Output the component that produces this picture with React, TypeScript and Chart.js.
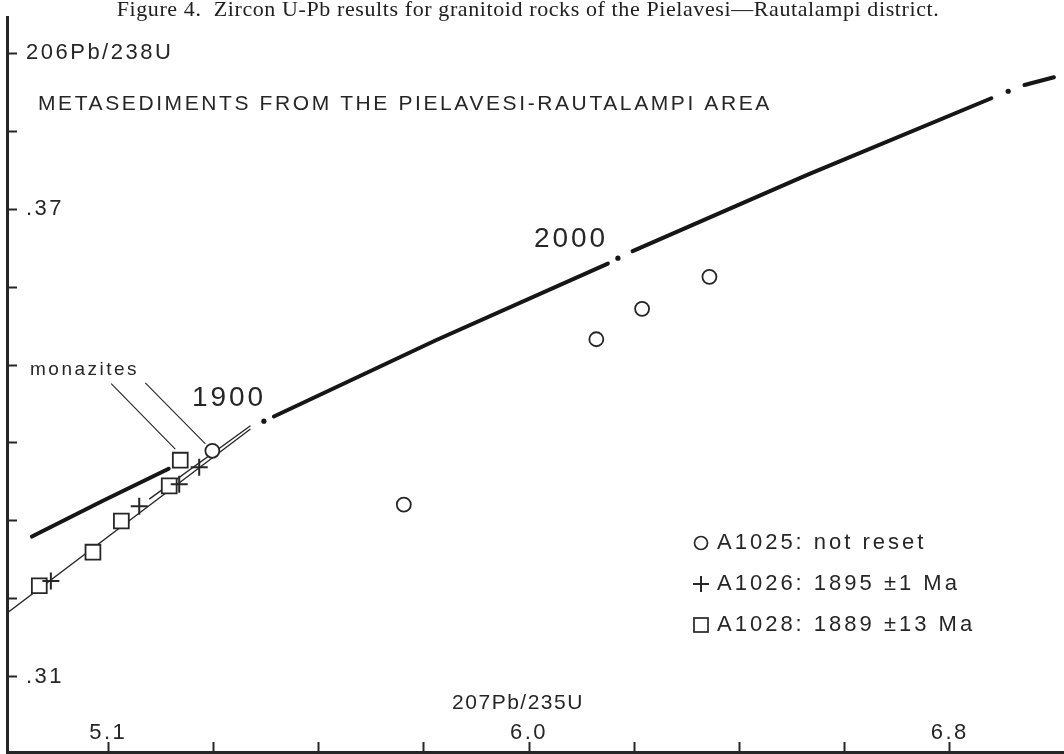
import React, { useEffect, useRef } from "react";
import { Chart, registerables } from "chart.js";

Chart.register(...registerables);

const SANS = '"Liberation Sans", Arial, Helvetica, sans-serif';
const SERIF = '"Liberation Serif", "Times New Roman", serif';
const INK = "#262626";
const LINE = "#161616";

// ---- data (207Pb/235U , 206Pb/238U) ----
const a1025X = [5.398, 5.762, 6.128, 6.215, 6.343];
const a1025Y = [0.339, 0.3321, 0.3533, 0.3572, 0.3613];
const a1026X = [5.091, 5.259, 5.335, 5.373];
const a1026Y = [0.3223, 0.3319, 0.3347, 0.3369];
const a1028X = [5.069, 5.171, 5.225, 5.316, 5.337];
const a1028Y = [0.3217, 0.326, 0.33, 0.3345, 0.3378];

// concordia curve, drawn in pieces (null = gap)
const concordiaX = [5.055, 5.19, 5.315, null, 5.515, 5.824, 6.15, null, 6.197, 6.53, 6.879, null, 6.942, 6.998];
const concordiaY = [0.328, 0.3326, 0.3367, null, 0.3434, 0.3532, 0.363, null, 0.3646, 0.3744, 0.3842, null, 0.3859, 0.3869];
const ageLabels = ["1900", "2000", "2100"];
const ageMarkX = [5.496, 6.169, 6.911];
const ageMarkY = [0.3428, 0.3637, 0.3851];

// discordia lines
const discordiaX = [5.008, 5.4705, null, 5.278, 5.4705];
const discordiaY = [0.3182, 0.3418, null, 0.3328, 0.3422];

// "monazites" leader lines
const leaderX = [5.2057, 5.3276, null, 5.2705, 5.3848];
const leaderY = [0.3476, 0.3392, null, 0.3477, 0.3399];

const xTickValues = [5.2, 5.4, 5.6, 5.8, 6.0, 6.2, 6.4, 6.6, 6.8];
const xTickLabels = ["5.1", "", "", "", "6.0", "", "", "", "6.8"];
const yTickValues = [0.31, 0.32, 0.33, 0.34, 0.35, 0.36, 0.37, 0.38, 0.39];
const yTickLabels = [".31", "", "", "", "", "", ".37", "", "206Pb/238U"];

const legendLabels = ["A1025: not reset", "A1026: 1895 ±1 Ma", "A1028: 1889 ±13 Ma"];
const titleText = "Figure 4.  Zircon U-Pb results for granitoid rocks of the Pielavesi\u2014Rautalampi district.";
const subtitleText = "METASEDIMENTS FROM THE PIELAVESI-RAUTALAMPI AREA";
const xTitle = "207Pb/235U";
const monaziteText = "monazites";

const pts = (xs: (number | null)[], ys: (number | null)[]) =>
  xs.map((x, i) => ({ x: x as any, y: ys[i] as any }));

const labelFor = (vals: number[], labels: string[], v: number) => {
  const i = vals.findIndex((t) => Math.abs(t - v) < 1e-6);
  return i >= 0 ? labels[i] : "";
};

const textPlugin = {
  id: "figText",
  beforeDraw(chart: any) {
    const ctx = chart.ctx;
    ctx.save();
    ctx.fillStyle = "#ffffff";
    ctx.fillRect(0, 0, chart.width, chart.height);
    ctx.restore();
    ctx.letterSpacing = "2.5px";
  },
  afterDraw(chart: any) {
    const ctx = chart.ctx;
    const xs = chart.scales.x;
    const ys = chart.scales.y;
    const txt = (s: string, x: number, y: number, font: string, ls: string, align: CanvasTextAlign = "left", base: CanvasTextBaseline = "middle", color = INK) => {
      ctx.save();
      ctx.font = font;
      ctx.letterSpacing = ls;
      ctx.fillStyle = color;
      ctx.textAlign = align;
      ctx.textBaseline = base;
      ctx.fillText(s, x, y);
      ctx.restore();
    };
    txt(titleText, 528, 16, `22px ${SERIF}`, "0.6px", "center", "alphabetic", "#202020");
    txt(subtitleText, 38, 104, `21px ${SANS}`, "2.6px");
    txt(xTitle, 518, 703, `21px ${SANS}`, "1.5px", "center");
    txt(monaziteText, 30, 370, `19px ${SANS}`, "2.5px");
    // age labels beside concordia marks
    const p1900x = xs.getPixelForValue(ageMarkX[0]);
    const p1900y = ys.getPixelForValue(ageMarkY[0]);
    txt(ageLabels[0], p1900x - 72, p1900y - 23, `28px ${SANS}`, "3px");
    const p2000x = xs.getPixelForValue(ageMarkX[1]);
    const p2000y = ys.getPixelForValue(ageMarkY[1]);
    txt(ageLabels[1], p2000x - 84, p2000y - 19, `28px ${SANS}`, "3px");

    // legend
    const lx = 701;
    const rows = [543, 584, 625];
    ctx.save();
    ctx.strokeStyle = INK;
    ctx.lineWidth = 1.7;
    ctx.beginPath();
    ctx.arc(lx, rows[0], 6.5, 0, Math.PI * 2);
    ctx.stroke();
    ctx.lineWidth = 2;
    ctx.beginPath();
    ctx.moveTo(lx - 8, rows[1]);
    ctx.lineTo(lx + 8, rows[1]);
    ctx.moveTo(lx, rows[1] - 8);
    ctx.lineTo(lx, rows[1] + 8);
    ctx.stroke();
    ctx.lineWidth = 1.7;
    ctx.strokeRect(lx - 7, rows[2] - 7, 14, 14);
    ctx.restore();
    legendLabels.forEach((s, i) => txt(s, 717, rows[i], `22px ${SANS}`, "3px"));
    ctx.letterSpacing = "0px";
  },
};

export default function App() {
  const ref = useRef<HTMLCanvasElement | null>(null);
  useEffect(() => {
    document.body.style.margin = "0";
    const canvas = ref.current;
    if (!canvas) return;
    const chart = new Chart(canvas, {
      type: "scatter",
      data: {
        datasets: [
          {
            label: "A1025",
            data: pts(a1025X, a1025Y),
            pointStyle: "circle",
            pointRadius: 7,
            borderColor: INK,
            backgroundColor: "#ffffff",
            borderWidth: 1.8,
            order: 1,
          },
          {
            label: "A1026",
            data: pts(a1026X, a1026Y),
            pointStyle: "cross",
            pointRadius: 8.5,
            borderColor: INK,
            backgroundColor: "#ffffff",
            borderWidth: 2,
            order: 1,
          },
          {
            label: "A1028",
            data: pts(a1028X, a1028Y),
            pointStyle: "rect",
            pointRadius: 10.5,
            borderColor: INK,
            backgroundColor: "#ffffff",
            borderWidth: 1.8,
            order: 1,
          },
          {
            label: "concordia",
            data: pts(concordiaX, concordiaY),
            showLine: true,
            spanGaps: false,
            pointRadius: 0,
            borderColor: LINE,
            borderWidth: 4,
            borderCapStyle: "round",
            order: 5,
          } as any,
          {
            label: "ages",
            data: pts(ageMarkX, ageMarkY),
            pointRadius: 2.6,
            borderWidth: 0,
            backgroundColor: LINE,
            order: 4,
          },
          {
            label: "discordia",
            data: pts(discordiaX, discordiaY),
            showLine: true,
            spanGaps: false,
            pointRadius: 0,
            borderColor: INK,
            borderWidth: 1.3,
            order: 6,
          } as any,
          {
            label: "leaders",
            data: pts(leaderX, leaderY),
            showLine: true,
            spanGaps: false,
            pointRadius: 0,
            borderColor: INK,
            borderWidth: 1.1,
            order: 6,
          } as any,
        ],
      },
      options: {
        responsive: false,
        animation: false,
        devicePixelRatio: 1,
        events: [],
        layout: { autoPadding: false, padding: { top: 17, left: 0, right: 0, bottom: 0 } },
        plugins: {
          legend: { display: false },
          tooltip: { enabled: false },
          title: { display: false },
        },
        scales: {
          x: {
            type: "linear",
            position: "bottom",
            bounds: "data",
            min: 5.0076,
            max: 7.0171,
            afterBuildTicks: (s: any) => {
              s.ticks = xTickValues.map((v) => ({ value: v }));
            },
            afterFit: (s: any) => {
              s.height = 2;
              s.paddingLeft = 0;
              s.paddingRight = 0;
              s.paddingTop = 0;
              s.paddingBottom = 0;
            },
            ticks: {
              mirror: true,
              padding: 6,
              autoSkip: false,
              maxRotation: 0,
              minRotation: 0,
              color: INK,
              font: { family: SANS, size: 22 },
              callback: (v: any) => labelFor(xTickValues, xTickLabels, Number(v)),
            },
            grid: {
              display: true,
              drawOnChartArea: false,
              drawTicks: true,
              tickLength: -10,
              tickWidth: 2,
              tickColor: INK,
            },
            border: { display: true, width: 3, color: INK },
          },
          y: {
            type: "linear",
            position: "left",
            bounds: "data",
            min: 0.30038,
            max: 0.39462,
            afterBuildTicks: (s: any) => {
              s.ticks = yTickValues.map((v) => ({ value: v }));
            },
            afterFit: (s: any) => {
              s.width = 7;
              s.paddingLeft = 0;
              s.paddingRight = 0;
              s.paddingTop = 0;
              s.paddingBottom = 0;
            },
            ticks: {
              mirror: true,
              padding: 19,
              autoSkip: false,
              color: INK,
              font: { family: SANS, size: 22 },
              callback: (v: any) => labelFor(yTickValues, yTickLabels, Number(v)),
            },
            grid: {
              display: true,
              drawOnChartArea: false,
              drawTicks: true,
              tickLength: -10,
              tickWidth: 2,
              tickColor: INK,
            },
            border: { display: true, width: 3, color: INK },
          },
        },
      } as any,
      plugins: [textPlugin],
    });
    return () => chart.destroy();
  }, []);

  return (
    <div style={{ position: "absolute", left: 0, top: 0, width: 1064, height: 754, background: "#fff" }}>
      <canvas ref={ref} width={1064} height={754} style={{ display: "block", width: 1064, height: 754 }} />
    </div>
  );
}
